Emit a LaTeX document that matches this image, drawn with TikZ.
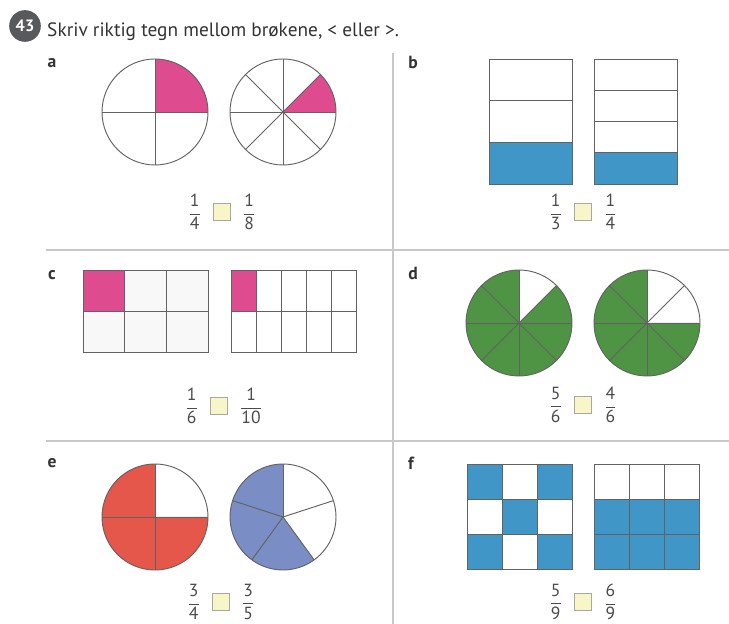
\documentclass[tikz,border=0pt]{standalone}
\usepackage{fontspec}
\usepackage{amsmath}
\setmainfont{PT Sans}
\usetikzlibrary{positioning}

\definecolor{piecepink}{HTML}{DE4B8F}
\definecolor{pieceblue}{HTML}{4096C6}
\definecolor{piecegreen}{HTML}{4E9444}
\definecolor{piecered}{HTML}{E4574A}
\definecolor{pieceviolet}{HTML}{7A8EC5}
\definecolor{cellgray}{HTML}{F8F8F8}
\definecolor{linegray}{HTML}{626262}
\definecolor{rulegray}{HTML}{C8C8C8}
\definecolor{boxyellow}{HTML}{F8F5C9}
\definecolor{boxgray}{HTML}{A8A8A0}
\definecolor{textgray}{HTML}{333333}
\definecolor{numgray}{HTML}{4A4A4A}
\definecolor{badgegray}{HTML}{58595B}

\begin{document}
\begin{tikzpicture}[
    x=0.03cm, y=0.03cm,
    outline/.style={draw=linegray, line width=0.8pt},
    divider/.style={draw=rulegray, line width=1.2pt},
    tag/.style={font=\fontsize{15}{15}\selectfont\bfseries, text=textgray, inner sep=0pt},
    frac/.style={font=\fontsize{15}{17}\selectfont, text=numgray, inner sep=0pt},
    answer/.style={draw=boxgray, fill=boxyellow, line width=0.6pt,
        minimum width=15pt, minimum height=15pt, inner sep=0pt}
]

\fill[white] (0,0) rectangle (729,624);
\useasboundingbox (0,0) rectangle (729,624);

% Title
\node[circle, fill=badgegray, text=white, inner sep=0pt, minimum size=27,
    font=\fontsize{14}{14}\selectfont\bfseries] (badge) at (25,598) {43};
\node[anchor=base west, inner sep=0pt, text=textgray,
    font=\fontsize{16.5}{18}\selectfont] (title) at (47,587)
{Skriv riktig tegn mellom brøkene, < eller >.};

% Dividers
\draw[divider] (393,0) -- (393,571);
\draw[divider] (46,374) -- (729,374);
\draw[divider] (46,183) -- (729,183);

% Panel a
\node[tag] (tag_a) at (52,561) {a};
\coordinate (a_left) at (155,512);
\coordinate (a_right) at (283,512);
\fill[piecepink] (a_left) -- ++(0:53) arc[start angle=0, end angle=90, radius=53] -- cycle;
\fill[piecepink] (a_right) -- ++(0:53) arc[start angle=0, end angle=45, radius=53] -- cycle;
\foreach \a in {0,90,180,270}
    \draw[outline] (a_left) -- ++(\a:53);
\foreach \a in {0,45,...,315}
    \draw[outline] (a_right) -- ++(\a:53);
\draw[outline] (a_left) circle[radius=53];
\draw[outline] (a_right) circle[radius=53];

\node[answer] (box_a) at (222,412) {};
\node[frac, left=10pt of box_a] (a_one) {$\dfrac{\text{1}}{\text{4}}$};
\node[frac, right=10pt of box_a] (a_two) {$\dfrac{\text{1}}{\text{8}}$};

% Panel b
\node[tag] (tag_b) at (413,562) {b};
\fill[pieceblue] (489,440) rectangle (572,481.67);
\fill[pieceblue] (594,440) rectangle (677,471.25);
\draw[outline] (489,481.67) -- (572,481.67);
\draw[outline] (489,523.33) -- (572,523.33);
\draw[outline] (594,471.25) -- (677,471.25);
\draw[outline] (594,502.5) -- (677,502.5);
\draw[outline] (594,533.75) -- (677,533.75);
\draw[outline] (489,440) rectangle (572,565);
\draw[outline] (594,440) rectangle (677,565);

\node[answer] (box_b) at (583,412) {};
\node[frac, left=10pt of box_b] (b_one) {$\dfrac{\text{1}}{\text{3}}$};
\node[frac, right=10pt of box_b] (b_two) {$\dfrac{\text{1}}{\text{4}}$};

% Panel c
\node[tag] (tag_c) at (52,349) {c};
\fill[cellgray] (83,272) rectangle (208,354);
\fill[piecepink] (83,313) rectangle (124.67,354);
\fill[piecepink] (231,313) rectangle (256,354);
\draw[outline, shift={(83,272)}, xstep=125/3, ystep=41] (0,0) grid (125,82);
\draw[outline, shift={(231,272)}, xstep=25, ystep=41] (0,0) grid (125,82);
\draw[outline] (83,272) rectangle (208,354);
\draw[outline] (231,272) rectangle (356,354);

\node[answer] (box_c) at (219,218) {};
\node[frac, left=10pt of box_c] (c_one) {$\dfrac{\text{1}}{\text{6}}$};
\node[frac, right=10pt of box_c] (c_two) {$\dfrac{\text{1}}{\text{10}}$};

% Panel d
\node[tag] (tag_d) at (413,351) {d};
\coordinate (d_left) at (519,301);
\coordinate (d_right) at (647,301);
\fill[piecegreen] (d_left) -- ++(90:53) arc[start angle=90, end angle=405, radius=53] -- cycle;
\fill[piecegreen] (d_right) -- ++(90:53) arc[start angle=90, end angle=360, radius=53] -- cycle;
\foreach \a in {0,45,...,315} {
    \draw[outline] (d_left) -- ++(\a:53);
    \draw[outline] (d_right) -- ++(\a:53);
}
\draw[outline] (d_left) circle[radius=53];
\draw[outline] (d_right) circle[radius=53];

\node[answer] (box_d) at (583,219) {};
\node[frac, left=10pt of box_d] (d_one) {$\dfrac{\text{5}}{\text{6}}$};
\node[frac, right=10pt of box_d] (d_two) {$\dfrac{\text{4}}{\text{6}}$};

% Panel e
\node[tag] (tag_e) at (52,161) {e};
\coordinate (e_left) at (155,107);
\coordinate (e_right) at (283,107);
\fill[piecered] (e_left) -- ++(90:53) arc[start angle=90, end angle=360, radius=53] -- cycle;
\fill[pieceviolet] (e_right) -- ++(90:53) arc[start angle=90, end angle=306, radius=53] -- cycle;
\foreach \a in {0,90,180,270}
    \draw[outline] (e_left) -- ++(\a:53);
\foreach \a in {18,90,162,234,306}
    \draw[outline] (e_right) -- ++(\a:53);
\draw[outline] (e_left) circle[radius=53];
\draw[outline] (e_right) circle[radius=53];

\node[answer] (box_e) at (221,22) {};
\node[frac, left=10pt of box_e] (e_one) {$\dfrac{\text{3}}{\text{4}}$};
\node[frac, right=10pt of box_e] (e_two) {$\dfrac{\text{3}}{\text{5}}$};

% Panel f
\node[tag] (tag_f) at (411,161) {f};
\foreach \c/\r in {0/0,2/0,1/1,0/2,2/2}
    \fill[pieceblue] (467+35*\c,55+35*\r) rectangle ++(35,35);
\fill[pieceblue] (594,55) rectangle (699,125);
\draw[outline, shift={(467,55)}, step=35] (0,0) grid (105,105);
\draw[outline, shift={(594,55)}, step=35] (0,0) grid (105,105);
\draw[outline] (467,55) rectangle (572,160);
\draw[outline] (594,55) rectangle (699,160);

\node[answer] (box_f) at (583,22) {};
\node[frac, left=10pt of box_f] (f_one) {$\dfrac{\text{5}}{\text{9}}$};
\node[frac, right=10pt of box_f] (f_two) {$\dfrac{\text{6}}{\text{9}}$};

\end{tikzpicture}
\end{document}
